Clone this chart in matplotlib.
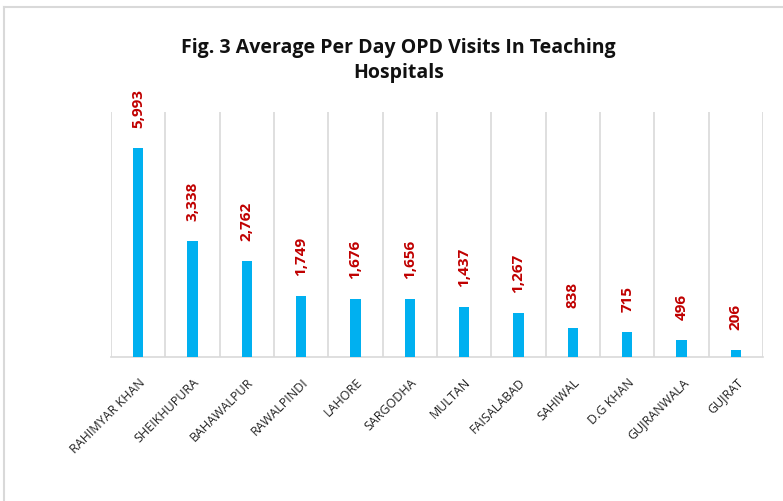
import matplotlib.pyplot as plt
from matplotlib.lines import Line2D

# Average OPD visits per day by teaching hospital city
cities = ['RAHIMYAR KHAN', 'SHEIKHUPURA', 'BAHAWALPUR', 'RAWALPINDI', 'LAHORE',
          'SARGODHA', 'MULTAN', 'FAISALABAD', 'SAHIWAL', 'D.G KHAN',
          'GUJRANWALA', 'GUJRAT']
visits = [5993, 3338, 2762, 1749, 1676, 1656, 1437, 1267, 838, 715, 496, 206]

plt.rcParams['font.family'] = ['Open Sans', 'DejaVu Sans']

fig = plt.figure(figsize=(7.83, 5.02), dpi=100)
ax = fig.add_axes([0.1418, 0.2869, 0.8327, 0.4881])

x = range(len(cities))
ax.bar(x, visits, width=0.19, color='#00B0F0', zorder=3)

for i, v in enumerate(visits):
    ax.annotate(f'{v:,}', (i, v), xytext=(0, 15), textcoords='offset points',
                rotation=90, ha='center', va='bottom', color='#C00000',
                fontsize=11, fontweight='bold')

ax.set_xlim(-0.5, len(cities) - 0.5)
ax.set_ylim(0, 7030)
ax.set_yticks([])
ax.set_xticks(list(x))
ax.set_xticklabels(cities, rotation=45, ha='right', rotation_mode='anchor',
                   fontsize=9, color='#222222')
ax.tick_params(axis='x', length=0, pad=13)

# vertical separators between categories
for b in range(len(cities) + 1):
    ax.axvline(b - 0.5, color='#D9D9D9', lw=1.2, zorder=1)
for s in ['top', 'left', 'right']:
    ax.spines[s].set_visible(False)
ax.spines['bottom'].set_color('#D9D9D9')
ax.spines['bottom'].set_linewidth(1.2)

fig.text(0.509, 0.905, 'Fig. 3 Average Per Day OPD Visits In Teaching',
         ha='center', va='center', fontsize=14, fontweight='bold', color='#111111')
fig.text(0.509, 0.855, 'Hospitals', ha='center', va='center', fontsize=14,
         fontweight='bold', color='#111111')

# chart frame
fig.add_artist(Line2D([0.005, 0.005], [0, 0.984], transform=fig.transFigure,
                      color='#D9D9D9', lw=1.5))
fig.add_artist(Line2D([0.005, 1.0], [0.984, 0.984], transform=fig.transFigure,
                      color='#D9D9D9', lw=1.5))

fig.savefig('out.png', dpi=100)
